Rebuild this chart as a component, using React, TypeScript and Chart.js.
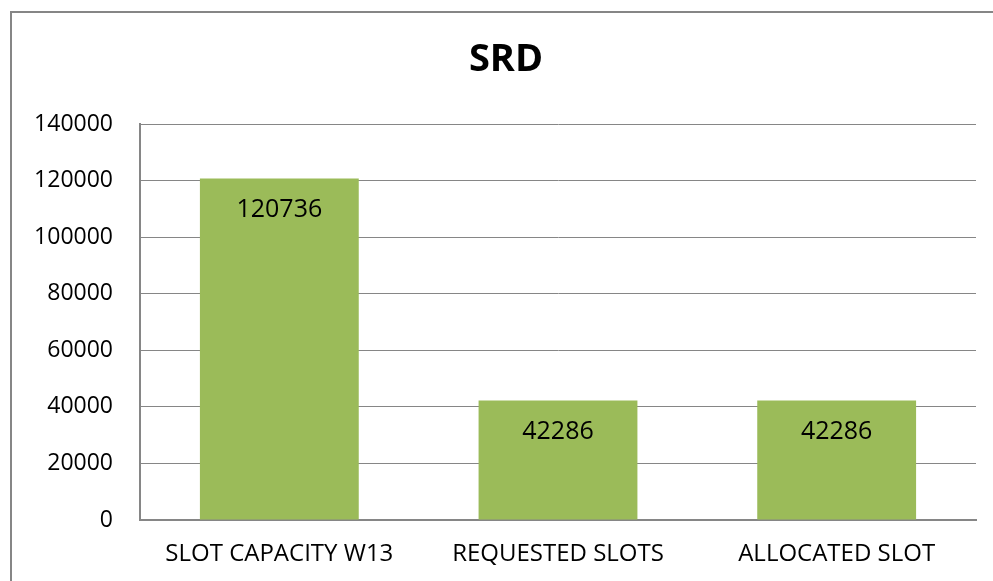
import React, { useEffect, useRef } from "react";
import { Chart, registerables } from "chart.js";

Chart.register(...registerables);

const chartTitle = "SRD";
const categories = ["SLOT CAPACITY W13", "REQUESTED SLOTS", "ALLOCATED SLOT"];
const slotValues = [120736, 42286, 42286];
const yMin = 0;
const yMax = 140000;
const yStep = 20000;

const FONT = "'Open Sans', sans-serif";
const GRID = "#868686";
const BAR = "#9BBB59";

const dataLabelPlugin = {
  id: "dataLabels",
  afterDatasetsDraw(chart: any) {
    const ctx = chart.ctx;
    const meta = chart.getDatasetMeta(0);
    const ds = chart.data.datasets[0];
    ctx.save();
    ctx.font = `25px ${FONT}`;
    ctx.fillStyle = "#000";
    ctx.textAlign = "center";
    ctx.textBaseline = "middle";
    meta.data.forEach((bar: any, i: number) => {
      ctx.fillText(String(ds.data[i]), bar.x, bar.y + 31);
    });
    ctx.restore();
  },
};

export default function App() {
  const ref = useRef<HTMLCanvasElement>(null);
  useEffect(() => {
    if (!ref.current) return;
    const chart = new Chart(ref.current, {
      type: "bar",
      data: {
        labels: categories,
        datasets: [
          {
            data: slotValues,
            backgroundColor: BAR,
            borderWidth: 0,
            categoryPercentage: 1,
            barPercentage: 0.57,
          },
        ],
      },
      options: {
        responsive: false,
        animation: false,
        devicePixelRatio: 1,
        layout: { padding: { left: 36, right: 17, top: 0, bottom: 0 } },
        plugins: {
          legend: { display: false },
          tooltip: { enabled: false },
          title: {
            display: true,
            text: chartTitle,
            color: "#000",
            font: { family: FONT, size: 38, weight: "bold", lineHeight: 1.2 },
            padding: { top: 37, bottom: 41.4 },
          },
        },
        scales: {
          x: {
            grid: { display: false, drawTicks: false },
            border: { display: true, color: GRID, width: 2 },
            ticks: {
              color: "#000",
              font: { family: FONT, size: 24 },
              padding: 20,
              maxRotation: 0,
              autoSkip: false,
            },
            afterFit(scale: any) {
              scale.height = 61;
            },
          },
          y: {
            min: yMin,
            max: yMax,
            grid: { color: GRID, lineWidth: 1, drawTicks: false },
            border: { display: true, color: GRID, width: 2 },
            ticks: {
              stepSize: yStep,
              color: "#000",
              font: { family: FONT, size: 23 },
              padding: 27,
              callback: (v: any) => String(v),
            },
            afterFit(scale: any) {
              scale.width = 104;
            },
          },
        },
      },
      plugins: [dataLabelPlugin],
    });
    return () => chart.destroy();
  }, []);

  return (
    <div
      style={{
        position: "fixed",
        left: 0,
        top: 0,
        width: 993,
        height: 581,
        overflow: "hidden",
        background: "#fff",
      }}
    >
      <canvas ref={ref} width={993} height={581} style={{ width: 993, height: 581, display: "block" }} />
      <div
        style={{
          position: "absolute",
          left: 10,
          top: 11,
          width: 1200,
          height: 1000,
          border: `2px solid ${GRID}`,
          boxSizing: "border-box",
          pointerEvents: "none",
        }}
      />
    </div>
  );
}
